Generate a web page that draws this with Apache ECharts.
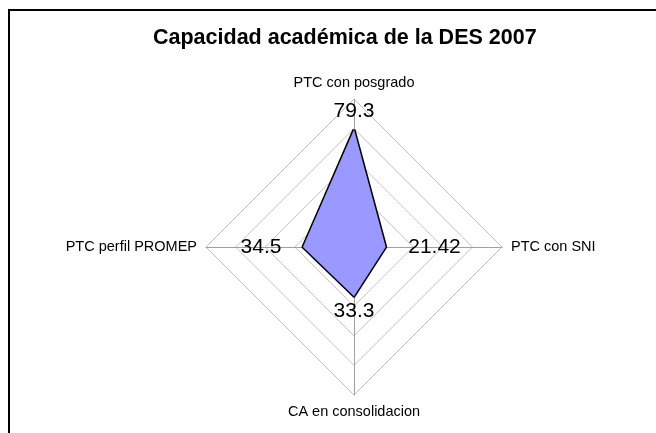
<!DOCTYPE html>
<html>
<head>
<meta charset="utf-8">
<script src="https://cdn.jsdelivr.net/npm/echarts@6/dist/echarts.min.js"></script>
<style>
  html, body { margin: 0; padding: 0; background: #fff; }
  #wrap { position: relative; width: 656px; height: 433px; overflow: hidden; }
  #frame {
    position: absolute; left: 8px; top: 9px; right: -10px; bottom: -10px;
    border-top: 2px solid #000; border-left: 2px solid #000;
  }
  #main { position: absolute; left: 0; top: 0; width: 656px; height: 433px; }
</style>
</head>
<body>
<div id="wrap">
  <div id="frame"></div>
  <div id="main"></div>
</div>
<script>
// ejes del radar (orden: arriba, izquierda, abajo, derecha)
var indicators = ['PTC con posgrado', 'PTC perfil PROMEP', 'CA en consolidacion', 'PTC con SNI'];
var values = [79.3, 34.5, 33.3, 21.42];
var axisMax = 100;

var font = '"Liberation Sans", Arial, sans-serif';

// una serie invisible por cada etiqueta, para poder ubicarla distinto
var labelPos = ['top', 'left', 'bottom', 'right'];
var labelDist = [7, 21, 4, 22];

var labelSeries = labelPos.map(function (pos, i) {
  return {
    type: 'radar',
    silent: true,
    symbol: 'circle',
    symbolSize: 1,
    itemStyle: { color: 'rgba(0,0,0,0)' },
    lineStyle: { width: 0, opacity: 0 },
    label: {
      show: true,
      position: pos,
      distance: labelDist[i],
      fontSize: 21,
      color: '#000',
      fontFamily: font,
      formatter: function (p) {
        return p.dimensionIndex === i ? String(values[i]) : '';
      }
    },
    data: [{ value: values }]
  };
});

var chart = echarts.init(document.getElementById('main'));
chart.setOption({
  animation: false,
  title: {
    text: 'Capacidad académica de la DES 2007',
    left: 148,
    top: 22,
    textStyle: { fontSize: 21.5, fontWeight: 'bold', color: '#000', fontFamily: font }
  },
  radar: {
    center: [354, 247],
    radius: 148,
    shape: 'polygon',
    splitNumber: 5,
    startAngle: 90,
    nameGap: 9,
    axisName: { color: '#000', fontSize: 14.5, fontFamily: font },
    indicator: indicators.map(function (n) { return { name: n, max: axisMax, min: 0 }; }),
    axisLine: { lineStyle: { color: '#a0a0a0', width: 1 } },
    splitLine: { lineStyle: { color: '#c0c0c0', width: 1 } },
    splitArea: { show: false },
    axisTick: { show: false },
    axisLabel: { show: false }
  },
  series: [{
    type: 'radar',
    silent: true,
    symbol: 'none',
    lineStyle: { color: '#000', width: 3 },
    areaStyle: { color: '#9999ff', opacity: 1 },
    data: [{ value: values }]
  }].concat(labelSeries)
});
</script>
</body>
</html>
